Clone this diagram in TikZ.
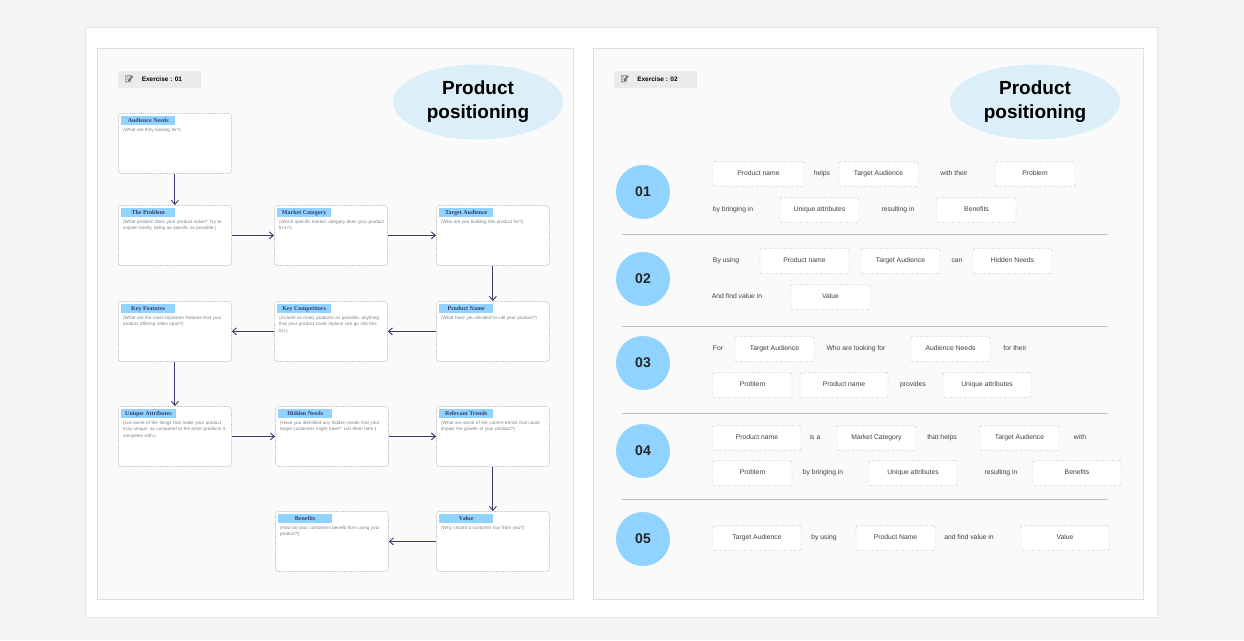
\documentclass[tikz,border=0pt]{standalone}
\usepackage{fontspec}
\setmainfont{Liberation Sans}
\newfontfamily\tagfont{Liberation Serif}
\newfontfamily\emo{Noto Emoji}
\usetikzlibrary{arrows.meta,shapes.geometric,calc}
\definecolor{bgc}{HTML}{F3F4F4}
\definecolor{panel}{HTML}{FAFAFA}
\definecolor{tagc}{HTML}{8FD3FE}
\definecolor{ellc}{HTML}{DCEFF9}
\definecolor{arr}{HTML}{3B3B6B}
\definecolor{dash}{HTML}{BBBBBB}
\tikzset{
 card/.style={draw=dash,densely dotted,fill=white,rounded corners=3pt,line width=0.8pt},
 tagbox/.style={fill=tagc,inner xsep=4pt,inner ysep=0pt,minimum height=9pt,minimum width=54pt,anchor=north west,font=\tagfont\bfseries\fontsize{6}{7}\selectfont,text=arr},
 desc/.style={anchor=north west,text width=106pt,align=left,inner sep=0pt,font=\fontsize{4.6}{6.4}\selectfont,text=gray},
 flow/.style={arr,line width=0.9pt,-{Straight Barb[length=4pt,width=7pt]}},
 slot/.style={draw=dash,densely dashed,fill=white,rounded corners=2pt,minimum height=25pt,inner sep=0pt,text height=5pt,text depth=1.5pt,font=\fontsize{6.8}{8}\selectfont,text=black!75},
 word/.style={font=\fontsize{6.8}{8}\selectfont,text=black!75,inner sep=0pt,text height=5pt,text depth=1.5pt},
 num/.style={circle,fill=tagc,minimum size=54pt,inner sep=0pt,font=\bfseries\fontsize{14}{16}\selectfont,text=black!85},
 title/.style={ellipse,fill=ellc,minimum width=170pt,minimum height=75pt,align=center,font=\bfseries\fontsize{19}{24}\selectfont},
 extag/.style={fill=black!8,minimum width=83pt,minimum height=17pt,inner sep=0pt,font=\bfseries\fontsize{6.5}{8}\selectfont},
}
\newcommand\lbox[5]{%
 \node[card,minimum width=113pt,minimum height=60pt,anchor=north west,inner sep=0pt] (#1) at (#2,#3) {};
 \node[tagbox] (#1t) at ($(#2,#3)+(3,3)$) {#4};
 \node[desc] (#1d) at ($(#2,#3)+(5,15)$) {#5};}
\newcommand\slotbox[5]{\node[slot,minimum width={(#3-#2)*1pt}] (#1) at ({(#2+#3)/2},#4) {#5};}
\begin{document}
\begin{tikzpicture}[x=1pt,y=-1pt]
\useasboundingbox (0,0) rectangle (1244,640);
\fill[bgc] (0,0) rectangle (1244,640);
\filldraw[fill=white,draw=black!10] (85,27) rectangle (1157,617);
\filldraw[fill=panel,draw=black!12] (97,48) rectangle (573,599);
\filldraw[fill=panel,draw=black!12] (593,48) rectangle (1143,599);
\node[extag] (ex1) at (159.5,79.5) {\hspace*{-12pt}{\emo\fontsize{7}{8}\selectfont 📝}\hspace{8pt}Exercise : 01};
\node[title] (t1) at (478,102) {Product\\positioning};
\lbox{an}{118}{113}{Audience Needs}{(What are they looking for?)}
\lbox{pr}{118}{205}{The Problem}{(What problem does your product solve? Try to explain briefly, being as specific as possible.)}
\lbox{mc}{274}{205}{Market Category}{(Which specific market category does your product fit in?)}
\lbox{ta}{436}{205}{Target Audience}{(Who are you building this product for?)}
\lbox{kf}{118}{301}{Key Features}{(What are the most important features that your product offering relies upon?)}
\lbox{kc}{274}{301}{Key Competitors}{(Include as many products as possible, anything that your product could replace can go into this list.)}
\lbox{pn}{436}{301}{Product Name}{(What have you decided to call your product?)}
\lbox{ua}{118}{406}{Unique Attributes}{(List some of the things that make your product truly unique, as compared to the other products it competes with.)}
\lbox{hn}{275}{406}{Hidden Needs}{(Have you identified any hidden needs that your target customers might have? List them here.)}
\lbox{rt}{436}{406}{Relevant Trends}{(What are some of the current trends that could impact the growth of your product?)}
\lbox{be}{275}{511}{Benefits}{(How do your customers benefit from using your product?)}
\lbox{va}{436}{511}{Value}{(Why should a customer buy from you?)}
\draw[flow] (an.south) -- (pr.north);
\draw[flow] (pr.east) -- (mc.west);
\draw[flow] (mc.east) -- (ta.west);
\draw[flow] (ta.south) -- (pn.north);
\draw[flow] (pn.west) -- (kc.east);
\draw[flow] (kc.west) -- (kf.east);
\draw[flow] (kf.south) -- (ua.north);
\draw[flow] (ua.east) -- (hn.west);
\draw[flow] (hn.east) -- (rt.west);
\draw[flow] (rt.south) -- (va.north);
\draw[flow] (va.west) -- (be.east);
\node[extag] (ex2) at (655,79.5) {\hspace*{-12pt}{\emo\fontsize{7}{8}\selectfont 📝}\hspace{8pt}Exercise : 02};
\node[title] (t2) at (1035,102) {Product\\positioning};
\node[num] (n1) at (643,192) {01};
\node[num] (n2) at (643,279) {02};
\node[num] (n3) at (643,363) {03};
\node[num] (n4) at (643,451) {04};
\node[num] (n5) at (643,539) {05};
\foreach \y in {234,326,413,499} \draw[black!25,line width=0.7pt] (622,\y) -- (1108,\y);
\slotbox{a1}{713}{804}{174}{Product name}
\node[word] (w1) at (822,174) {helps};
\slotbox{a2}{839}{918}{174}{Target Audience}
\node[word] (w2) at (954,174) {with their};
\slotbox{a3}{995}{1075}{174}{Problem}
\node[word] (w3) at (733,210) {by bringing in};
\slotbox{a4}{780}{859}{210}{Unique attributes}
\node[word] (w4) at (898,210) {resulting in};
\slotbox{a5}{937}{1016}{210}{Benefits}
\node[word] (w5) at (726,261) {By using};
\slotbox{b1}{760}{849}{261}{Product name}
\slotbox{b2}{861}{940}{261}{Target Audience}
\node[word] (w6) at (957,261) {can};
\slotbox{b3}{973}{1052}{261}{Hidden Needs}
\node[word] (w7) at (737,297) {And find value in};
\slotbox{b4}{791}{870}{297}{Value}
\node[word] (w8) at (718,349) {For};
\slotbox{c1}{735}{814}{349}{Target Audience}
\node[word] (w9) at (856,349) {Who are looking for};
\slotbox{c2}{911}{990}{349}{Audience Needs}
\node[word] (w10) at (1015,349) {for their};
\slotbox{c3}{713}{792}{385}{Problem}
\slotbox{c4}{800}{888}{385}{Product name}
\node[word] (w11) at (913,385) {provides};
\slotbox{c5}{943}{1031}{385}{Unique attributes}
\slotbox{d1}{713}{801}{438}{Product name}
\node[word] (w12) at (815,438) {is a};
\slotbox{d2}{837}{916}{438}{Market Category}
\node[word] (w13) at (942,438) {that helps};
\slotbox{d3}{980}{1059}{438}{Target Audience}
\node[word] (w14) at (1080,438) {with};
\slotbox{d4}{713}{792}{473}{Problem}
\node[word] (w15) at (823,473) {by bringing in};
\slotbox{d5}{869}{957}{473}{Unique attributes}
\node[word] (w16) at (1001,473) {resulting in};
\slotbox{d6}{1033}{1121}{473}{Benefits}
\slotbox{e1}{713}{801}{538}{Target Audience}
\node[word] (w17) at (824,538) {by using};
\slotbox{e2}{856}{935}{538}{Product Name}
\node[word] (w18) at (969,538) {and find value in};
\slotbox{e3}{1021}{1109}{538}{Value}
\end{tikzpicture}
\end{document}
